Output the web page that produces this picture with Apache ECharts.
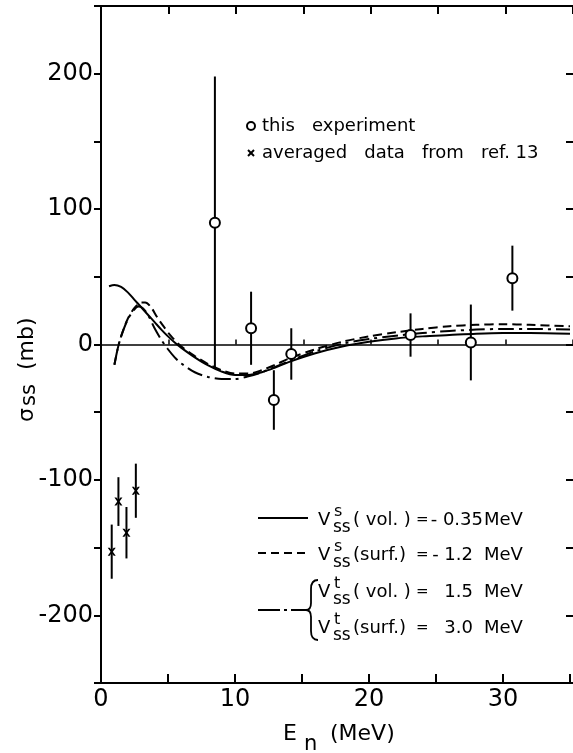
<!DOCTYPE html>
<html>
<head>
<meta charset="utf-8">
<title>sigma_ss vs E_n</title>
<script src="https://cdn.jsdelivr.net/npm/echarts@6/dist/echarts.min.js"></script>
<style>
  html, body { margin: 0; padding: 0; background: #fff; }
  #chart { width: 573px; height: 753px; }
</style>
</head>
<body>
<div id="chart"></div>
<script>
// this experiment (circles) with symmetric errors
const expEnergy = [8.5, 11.2, 12.9, 14.2, 23.1, 27.6, 30.7]
const expSigma = [90, 12, -41, -7, 7, 1.5, 49]
const expError = [108, 27, 22, 19, 16, 28, 24]

// averaged data from ref. 13 (crosses)
const refEnergy = [0.8, 1.3, 1.9, 2.6]
const refSigma = [-153, -116, -139, -108]
const refError = [20, 18, 19, 20]

// V_ss^s(vol.) = -0.35 MeV (solid)
const volEnergy = [0.6, 1.0, 1.5, 2.0, 2.5, 3.0, 3.5, 4.0, 4.5, 5.0, 5.5, 6.0, 7.0, 8.0, 9.0, 10.0, 11.0, 12.0, 13.0, 14.0, 16.0, 18.0, 20.0, 22.0, 24.0, 26.0, 28.0, 30.0, 32.0, 35.0]
const volSigma = [43, 44, 42.5, 38.5, 33, 27.5, 22, 16.5, 11, 6, 1.5, -2.5, -9.5, -15.5, -20, -22.5, -22.5, -20.5, -17, -13, -6.5, -1.5, 2, 4.5, 6, 7, 8, 8.5, 8.5, 8]

// V_ss^s(surf.) = -1.2 MeV (dashed)
const surfEnergy = [1.0, 1.25, 1.5, 2.0, 2.5, 3.0, 3.3, 3.7, 4.2, 4.7, 5.2, 6.0, 7.0, 8.0, 9.0, 10.0, 11.0, 12.0, 13.0, 14.0, 16.0, 18.0, 20.0, 22.0, 24.0, 26.0, 28.0, 30.0, 32.0, 35.0]
const surfSigma = [-15, -3, 6, 19, 27, 31, 31, 28, 20, 13, 6.5, -1.5, -8.5, -14.5, -19, -21.5, -21.5, -19, -15, -10.5, -3.5, 2, 6, 9, 11.5, 13.5, 14.5, 15, 14.5, 13.5]

// V_ss^t(vol.) = 1.5 MeV, V_ss^t(surf.) = 3.0 MeV (dash-dot)
const tensEnergy = [1.0, 1.25, 1.5, 2.0, 2.5, 2.8, 3.1, 3.5, 4.0, 4.5, 5.0, 5.5, 6.0, 7.0, 8.0, 9.0, 10.0, 11.0, 12.0, 13.0, 14.0, 16.0, 18.0, 20.0, 22.0, 24.0, 26.0, 28.0, 30.0, 32.0, 35.0]
const tensSigma = [-15, -3, 6, 18.5, 26, 28, 27, 22, 12, 3.5, -3.5, -9.5, -14, -20.5, -24, -25.5, -25.5, -23.5, -20.5, -16.5, -12.5, -5, 0.5, 4, 6.5, 8.5, 10, 11, 11.5, 11.5, 11]

const xTickLabels = [0, 10, 20, 30]
const yTickLabels = [-200, -100, 0, 100, 200]

const FONT = 'DejaVu Sans'
const crossPath = 'path://M0,0 L2.5,0 L5,3.2 L7.5,0 L10,0 L6.4,5 L10,10 L7.5,10 L5,6.8 L2.5,10 L0,10 L3.6,5 Z'

function pairs(xs, ys) {
  return xs.map((x, i) => [x, ys[i]])
}

function errorBars(name, xs, ys, errs) {
  return {
    type: 'custom',
    name: name,
    xAxisIndex: 0,
    yAxisIndex: 0,
    silent: true,
    z: 2,
    encode: { x: 0, y: [1, 2] },
    data: xs.map((x, i) => [x, ys[i] - errs[i], ys[i] + errs[i]]),
    renderItem(params, api) {
      const lo = api.coord([api.value(0), api.value(1)])
      const hi = api.coord([api.value(0), api.value(2)])
      return {
        type: 'line',
        shape: { x1: lo[0], y1: lo[1], x2: hi[0], y2: hi[1] },
        style: { stroke: '#000', lineWidth: 2 }
      }
    }
  }
}

function curve(name, xs, ys, type) {
  return {
    type: 'line',
    name: name,
    xAxisIndex: 0,
    yAxisIndex: 0,
    data: pairs(xs, ys),
    showSymbol: false,
    smooth: 0.3,
    silent: true,
    lineStyle: { color: '#000', width: 2, type: type }
  }
}

function txt(x, y, text, size, align) {
  return {
    type: 'text',
    x: x,
    y: y,
    style: {
      text: text,
      fontFamily: FONT,
      fontSize: size,
      fill: '#000',
      align: align || 'left',
      textAlign: align || 'left',
      verticalAlign: 'middle',
      textVerticalAlign: 'middle'
    }
  }
}

function seg(x1, y1, x2, y2, w, dash) {
  return {
    type: 'line',
    shape: { x1: x1, y1: y1, x2: x2, y2: y2 },
    style: { stroke: '#000', lineWidth: w, lineDash: dash || null }
  }
}

function bez(x1, y1, cx1, cy1, cx2, cy2, x2, y2) {
  return {
    type: 'bezierCurve',
    shape: { x1: x1, y1: y1, cpx1: cx1, cpy1: cy1, cpx2: cx2, cpy2: cy2, x2: x2, y2: y2 },
    style: { fill: null, stroke: '#000', lineWidth: 1.8 }
  }
}

// one row of the lower legend: V with super/subscript and the value text
function vRow(y, sup, paren, value, valueRight) {
  return [
    txt(318, y, 'V', 18),
    txt(334, y - 8, sup, 16),
    txt(333, y + 8, 'ss', 17),
    txt(353, y, paren, 18),
    txt(416, y, '=', 15),
    txt(valueRight, y, value, 18, 'right'),
    txt(484, y, 'MeV', 18)
  ]
}

const gridRect = { left: 101, top: 6, width: 473, height: 677 }
const black = { color: '#000', width: 2 }

const myChart = echarts.init(document.getElementById('chart'))
myChart.setOption({
  animation: false,
  backgroundColor: '#fff',
  grid: [
    Object.assign({}, gridRect),
    Object.assign({}, gridRect),
    Object.assign({}, gridRect)
  ],
  xAxis: [
    {
      gridIndex: 0, type: 'value', position: 'bottom', min: 0, max: 35, interval: 5,
      axisLine: { onZero: false, lineStyle: black },
      axisTick: { inside: true, length: 9, lineStyle: black },
      axisLabel: {
        formatter: v => (xTickLabels.includes(v) ? String(v) : ''),
        color: '#000', fontFamily: FONT, fontSize: 24, margin: 5
      },
      splitLine: { show: false }
    },
    {
      gridIndex: 1, type: 'value', position: 'top', min: 0, max: 35, interval: 5,
      axisLine: { onZero: false, lineStyle: black },
      axisTick: { inside: true, length: 8, lineStyle: black },
      axisLabel: { show: false },
      splitLine: { show: false }
    },
    {
      // zero line, ticks pointing up
      gridIndex: 2, type: 'value', position: 'bottom', min: 0, max: 35, interval: 5,
      axisLine: { onZero: true, lineStyle: { color: '#000', width: 1.5 } },
      axisTick: { inside: true, length: 5, lineStyle: { color: '#000', width: 1.5 } },
      axisLabel: { show: false },
      splitLine: { show: false }
    },
    {
      // zero line, ticks pointing down
      gridIndex: 2, type: 'value', position: 'top', min: 0, max: 35, interval: 5,
      axisLine: { onZero: true, lineStyle: { color: '#000', width: 1.5 } },
      axisTick: { inside: true, length: 5, lineStyle: { color: '#000', width: 1.5 } },
      axisLabel: { show: false },
      splitLine: { show: false }
    }
  ],
  yAxis: [
    {
      gridIndex: 0, type: 'value', position: 'left', min: -250, max: 250, interval: 50,
      axisLine: { show: true, onZero: false, lineStyle: black },
      axisTick: { show: true, inside: false, length: 7, lineStyle: black },
      axisLabel: {
        formatter: v => (yTickLabels.includes(v) ? String(v) : ''),
        color: '#000', fontFamily: FONT, fontSize: 24, margin: 8
      },
      splitLine: { show: false }
    },
    {
      gridIndex: 1, type: 'value', position: 'right', min: -250, max: 250, interval: 50,
      axisLine: { show: false, onZero: false },
      axisTick: { show: true, inside: true, length: 7, lineStyle: black },
      axisLabel: { show: false },
      splitLine: { show: false }
    },
    {
      gridIndex: 2, type: 'value', min: -250, max: 250, interval: 50,
      axisLine: { show: false, onZero: false },
      axisTick: { show: false },
      axisLabel: { show: false },
      splitLine: { show: false }
    }
  ],
  series: [
    curve('V_ss^s(vol.) = -0.35 MeV', volEnergy, volSigma, 'solid'),
    curve('V_ss^s(surf.) = -1.2 MeV', surfEnergy, surfSigma, [9, 5]),
    curve('V_ss^t(vol.) = 1.5 MeV, V_ss^t(surf.) = 3.0 MeV', tensEnergy, tensSigma, [16, 5, 3, 5]),
    errorBars('this experiment errors', expEnergy, expSigma, expError),
    errorBars('ref. 13 errors', refEnergy, refSigma, refError),
    {
      type: 'scatter',
      name: 'this experiment',
      xAxisIndex: 0,
      yAxisIndex: 0,
      data: pairs(expEnergy, expSigma),
      symbol: 'circle',
      symbolSize: 10,
      z: 4,
      itemStyle: { color: '#fff', borderColor: '#000', borderWidth: 2, opacity: 1 }
    },
    {
      type: 'scatter',
      name: 'averaged data from ref. 13',
      xAxisIndex: 0,
      yAxisIndex: 0,
      data: pairs(refEnergy, refSigma),
      symbol: crossPath,
      symbolSize: 8,
      z: 4,
      itemStyle: { color: '#000', opacity: 1 }
    }
  ],
  graphic: [
    // upper legend
    { type: 'circle', shape: { cx: 251, cy: 126, r: 4 }, style: { fill: '#fff', stroke: '#000', lineWidth: 2 } },
    txt(262, 126, 'this   experiment', 18),
    seg(248, 150, 254, 156, 2),
    seg(254, 150, 248, 156, 2),
    txt(262, 153, 'averaged   data   from   ref. 13', 18),

    // lower legend line samples
    seg(258, 518, 308, 518, 2),
    seg(258, 553, 308, 553, 2, [8, 5]),
    seg(258, 610, 306, 610, 2, [22, 4, 3, 4]),
    // brace
    bez(318, 580, 313, 580, 311, 583, 311, 589),
    seg(311, 589, 311, 603, 1.8),
    bez(311, 603, 311, 608, 309, 610, 306, 610),
    bez(306, 610, 309, 610, 311, 612, 311, 617),
    seg(311, 617, 311, 631, 1.8),
    bez(311, 631, 311, 637, 313, 640, 318, 640),
    ...vRow(520, 's', '( vol. )', '- 0.35', 483),
    ...vRow(555, 's', '(surf.)', '- 1.2', 473),
    ...vRow(592, 't', '( vol. )', '1.5', 473),
    ...vRow(628, 't', '(surf.)', '3.0', 473),

    // axis titles
    txt(283, 734, 'E', 22),
    txt(304, 745, 'n', 21),
    txt(330, 734, '(MeV)', 22),
    {
      type: 'group',
      x: 27,
      y: 422,
      rotation: Math.PI / 2,
      children: [
        txt(0, 0, 'σ', 22),
        txt(16, 3, 'ss', 21),
        txt(52, 0, '(mb)', 22)
      ]
    }
  ]
})
</script>
</body>
</html>
